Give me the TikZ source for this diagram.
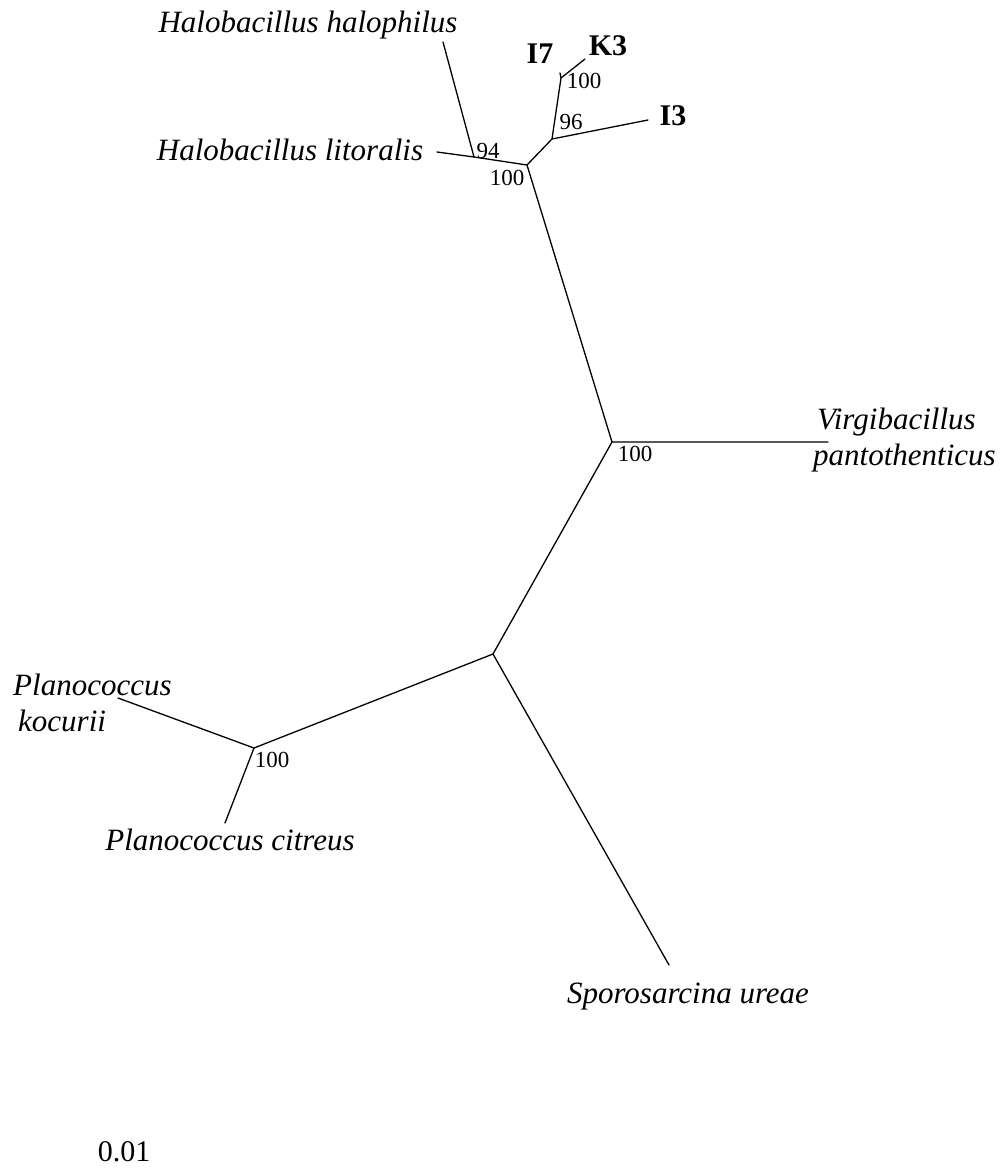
\documentclass[tikz,border=0pt]{standalone}
\usepackage{fontspec}
\setmainfont{Liberation Serif}
\begin{document}
\begin{tikzpicture}[x=1pt,y=-1pt,
  taxon/.style={font=\fontsize{31}{36}\selectfont\itshape, inner sep=0pt},
  strain/.style={font=\fontsize{30}{34}\selectfont\bfseries, inner sep=0pt},
  boot/.style={font=\fontsize{23}{26}\selectfont, inner sep=0pt},
  scaletext/.style={font=\fontsize{30}{34}\selectfont, inner sep=0pt},
  branch/.style={line width=1.3pt, line cap=round}]
\useasboundingbox (0,0) rectangle (1002,1168);
% internal nodes
\coordinate (B) at (474,157);
\coordinate (A) at (527,165);
\coordinate (C) at (552,139);
\coordinate (E) at (561,78);
\coordinate (D) at (612,442);
\coordinate (F) at (493,654);
\coordinate (G) at (254,748);
% tips
\coordinate (hh) at (443,42);
\coordinate (hl) at (437,152);
\coordinate (i7) at (560,73);
\coordinate (k3) at (585,59);
\coordinate (i3) at (648,120);
\coordinate (vp) at (828,442);
\coordinate (su) at (669,965);
\coordinate (pk) at (118,698);
\coordinate (pc) at (225,823);
% branches
\draw[branch] (hh) -- (B);
\draw[branch] (hl) -- (B) -- (A);
\draw[branch] (A) -- (C) -- (i3);
\draw[branch] (C) -- (E) -- (k3);
\draw[branch] (E) -- (i7);
\draw[branch] (A) -- (D) -- (vp);
\draw[branch] (D) -- (F) -- (su);
\draw[branch] (F) -- (G) -- (pk);
\draw[branch] (G) -- (pc);
% taxon labels
\node[taxon] (Lhh) at (308,25) {Halobacillus halophilus};
\node[taxon] (Lhl) at (290,150) {Halobacillus litoralis};
\node[strain] (Li7) at (540,54) {I7};
\node[strain] (Lk3) at (608,46) {K3};
\node[strain] (Li3) at (673,116) {I3};
\node[taxon, align=left, anchor=west] (Lvp) at (813,440) {\hspace{4pt}Virgibacillus\\pantothenticus};
\node[taxon] (Lsu) at (688,997) {Sporosarcina ureae};
\node[taxon, align=left, anchor=west] (Lpk) at (13,703) {Planococcus\\\hspace{5pt}kocurii};
\node[taxon] (Lpc) at (230,840) {Planococcus citreus};
% bootstrap values
\node[boot] (bE) at (584,81) {100};
\node[boot] (bC) at (571,122) {96};
\node[boot] (bB) at (488,151) {94};
\node[boot] (bA) at (507,178) {100};
\node[boot] (bD) at (635,454) {100};
\node[boot] (bG) at (272,760) {100};
% scale
\node[scaletext] (sc) at (124,1152) {0.01};
\end{tikzpicture}
\end{document}
